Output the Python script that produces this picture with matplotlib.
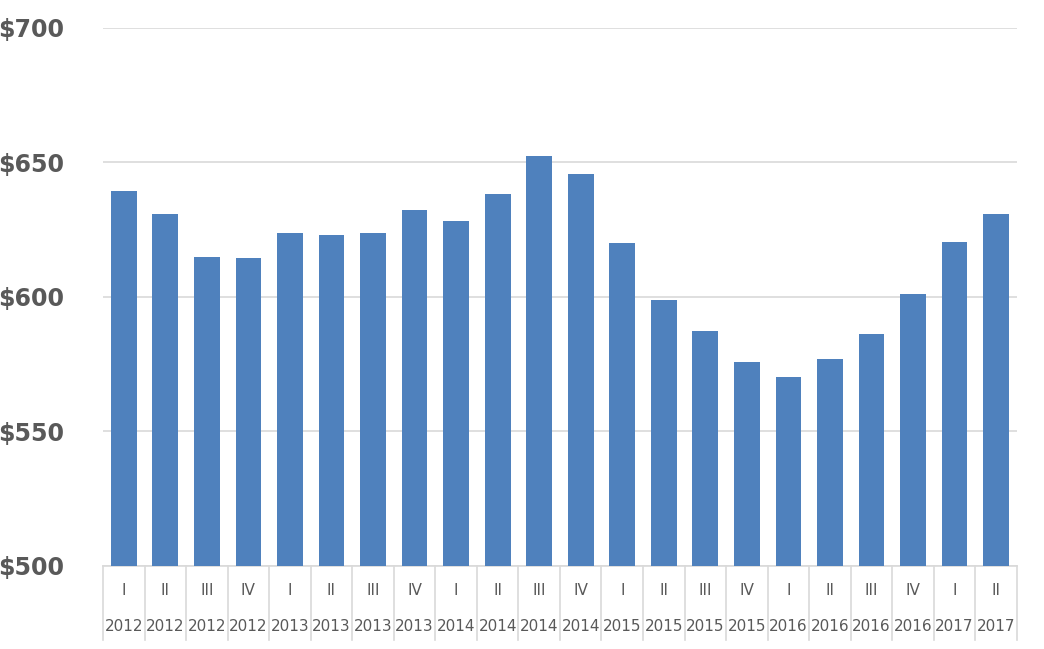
import matplotlib
matplotlib.use("Agg")
import matplotlib.pyplot as plt
from matplotlib.transforms import blended_transform_factory

quarters = ["I","II","III","IV"]*5 + ["I","II"]
years = ["2012"]*4 + ["2013"]*4 + ["2014"]*4 + ["2015"]*4 + ["2016"]*4 + ["2017"]*2
values = [639.4, 630.9, 614.9, 614.5, 623.8, 623.0, 623.8, 632.3, 628.3, 638.3, 652.4,
          645.7, 620.1, 598.9, 587.4, 575.8, 570.3, 576.9, 586.2, 601.1, 620.4, 630.9]
yticks = [500, 550, 600, 650, 700]

fig = plt.figure(figsize=(10.44, 6.49), dpi=100)
ax = fig.add_axes([0.0987, 0.128, 0.8753, 0.829])
n = len(values)
x = list(range(n))
ax.bar(x, [v - 500 for v in values], bottom=500, width=0.62, color="#4F81BD", zorder=3)
ax.set_xlim(-0.5, n - 0.5)
ax.set_ylim(500, 700)
ax.set_yticks(yticks)
ax.set_yticklabels([f"${t}" for t in yticks], fontsize=17, fontweight="bold", color="#595959")
ax.yaxis.grid(True, color="#D9D9D9", linewidth=1.2, zorder=0)
ax.tick_params(axis="y", length=0, pad=28)
ax.set_xticks([])
for s in ["top", "right", "left"]:
    ax.spines[s].set_visible(False)
ax.spines["bottom"].set_color("#D9D9D9")
ax.spines["bottom"].set_linewidth(1.2)

tr = blended_transform_factory(ax.transData, ax.transAxes)
for i in range(n + 1):
    ax.plot([i - 0.5, i - 0.5], [0, -0.138], transform=tr, color="#D9D9D9", lw=1.2, clip_on=False)
for i in range(n):
    ax.text(i, -0.045, quarters[i], transform=tr, ha="center", va="center", fontsize=11, color="#595959")
    ax.text(i, -0.113, years[i], transform=tr, ha="center", va="center", fontsize=11, color="#595959")

fig.savefig("out.png", dpi=100)
